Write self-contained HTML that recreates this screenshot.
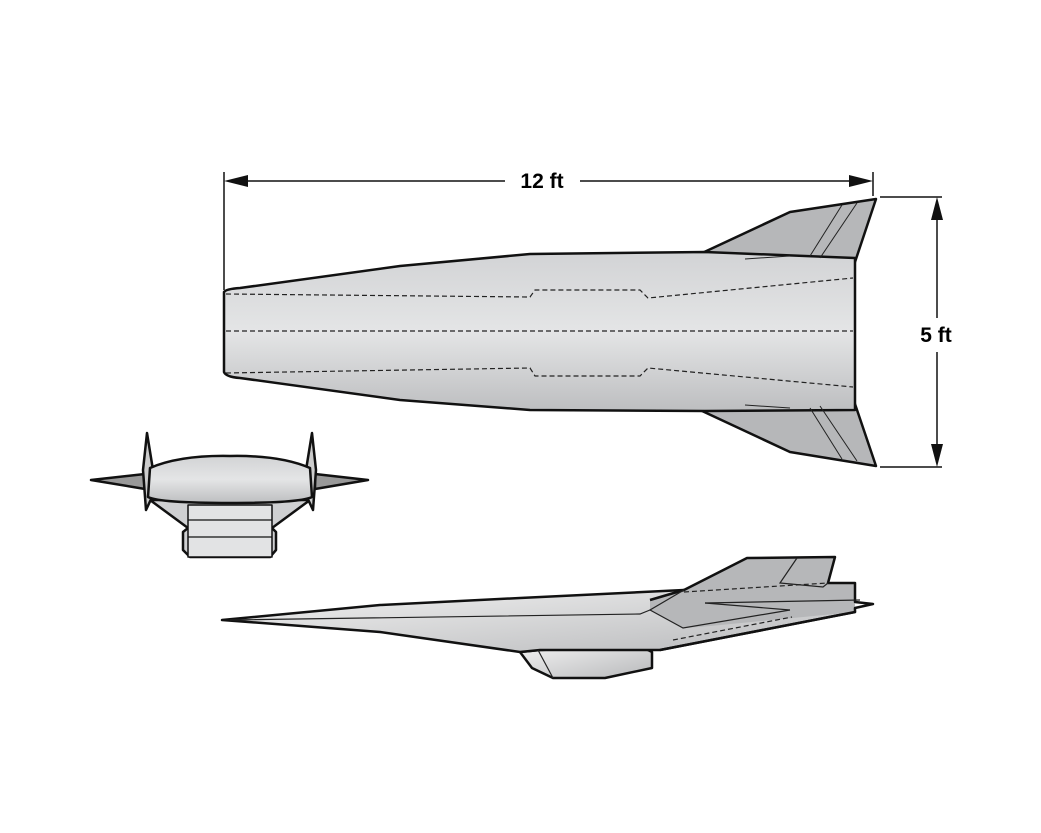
<!DOCTYPE html>
<html><head><style>body{margin:0;background:#fff}svg{display:block}text{font-family:"Liberation Sans",sans-serif;font-weight:bold;font-size:21px}</style></head><body>
<svg width="1041" height="833" viewBox="0 0 1041 833">
<defs>
<linearGradient id="g" x1="0" y1="0" x2="0" y2="1"><stop offset="0" stop-color="#d2d3d5"/><stop offset="0.5" stop-color="#e4e5e6"/><stop offset="1" stop-color="#bdbec0"/></linearGradient>
<linearGradient id="s" x1="0" y1="0" x2="1" y2="1"><stop offset="0" stop-color="#f2f2f2"/><stop offset="1" stop-color="#b8b9bb"/></linearGradient>
</defs>
<g stroke="#111" stroke-width="1.5" fill="none">
<line x1="224" y1="172" x2="224" y2="290"/><line x1="873" y1="172" x2="873" y2="196"/>
<line x1="232" y1="181" x2="505" y2="181"/><line x1="580" y1="181" x2="865" y2="181"/>
<line x1="880" y1="197" x2="942" y2="197"/><line x1="880" y1="467" x2="942" y2="467"/>
<line x1="937" y1="205" x2="937" y2="318"/><line x1="937" y1="352" x2="937" y2="459"/>
</g>
<g fill="#111"><polygon points="224,181 248,175 248,187"/><polygon points="873,181 849,175 849,187"/><polygon points="937,197 931,220 943,220"/><polygon points="937,467 931,444 943,444"/></g>
<text x="542" y="188" text-anchor="middle">12 ft</text>
<text x="936" y="342" text-anchor="middle">5 ft</text>
<!-- top view -->
<g stroke="#111" stroke-width="2.5" stroke-linejoin="round">
<polygon fill="#b6b7b9" points="700,254 790,212 876,199 855,262 820,258"/>
<polygon fill="#b6b7b9" points="700,410 790,452 876,466 855,404 820,406"/>
<path fill="url(#g)" d="M224,292 Q226,289 240,288 L400,266 L530,254 L705,252 L855,258 L855,410 L705,411 L530,410 L400,400 L240,378 Q226,377 224,372 Z"/>
</g>
<g stroke="#222" stroke-width="1" fill="none">
<line x1="810" y1="256" x2="842" y2="205"/><line x1="820" y1="258" x2="857" y2="203"/>
<line x1="810" y1="408" x2="842" y2="459"/><line x1="820" y1="406" x2="857" y2="461"/>
<line x1="745" y1="259" x2="790" y2="256"/><line x1="745" y1="405" x2="790" y2="408"/>
</g>
<g stroke="#222" stroke-width="1.2" fill="none" stroke-dasharray="5,3">
<line x1="226" y1="331" x2="853" y2="331"/>
<path d="M226,294 L530,297 L535,290 L640,290 L648,298 L853,278"/>
<path d="M226,373 L530,368 L535,376 L640,376 L648,368 L853,387"/>
</g>
<!-- front view -->
<g stroke="#111" stroke-width="2.5" stroke-linejoin="round">
<path fill="#cfd0d2" d="M150,500 L188,528 L183,532 L183,550 L190,557 L270,557 L276,550 L276,532 L272,528 L310,500 Z"/>
<rect x="188" y="505" width="84" height="52" fill="#e2e3e4" stroke-width="1.5"/>
<line x1="188" y1="520" x2="272" y2="520" stroke-width="1.2"/>
<line x1="188" y1="537" x2="272" y2="537" stroke-width="1.2"/>
<path fill="#999" d="M91,480 L145,474 L145,489 Z" stroke-width="2.5"/>
<path fill="#999" d="M368,480 L315,474 L315,489 Z" stroke-width="2.5"/>
<path fill="#ccc" d="M147,433 L153,470 L153,495 L146,510 L143,470 Z" stroke-width="2.5"/>
<path fill="#ccc" d="M312,433 L306,470 L306,495 L313,510 L316,470 Z" stroke-width="2.5"/>
<path fill="url(#g)" d="M150,468 Q180,455 230,456 Q280,455 310,468 L312,497 Q300,503 230,503 Q160,503 148,497 Z"/>
</g>
<!-- side view -->
<g stroke="#111" stroke-width="2.5" stroke-linejoin="round">
<path fill="url(#s)" d="M520,652 L540,650 L640,646 L652,652 L652,668 L605,678 L553,678 L532,668 Z"/>
<path fill="url(#s)" d="M222,620 L380,605 L520,598 L684,590 L760,600 L855,612 L660,650 L540,650 L520,652 L380,632 Z"/>
<path fill="#b6b7b9" d="M650,600 L684,590 L747,558 L835,557 L828,583 L855,583 L855,612 L700,627 L683,628 L650,610 Z" stroke-width="0"/>
<polyline fill="none" points="650,600 684,590 747,558 835,557 828,583 855,583 855,602 873,604 855,608 855,612 660,650"/>
</g>
<g stroke="#222" stroke-width="1.2" fill="none">
<polyline points="230,620 640,614 650,610"/>
<polyline points="684,590 650,610 683,628 790,610"/>
<line x1="705" y1="603" x2="860" y2="600"/>
<line x1="705" y1="603" x2="790" y2="610"/>
<polyline points="797,558 780,583 823,587 828,583"/>
<line x1="538" y1="650" x2="553" y2="678"/>
</g>
<g stroke="#222" stroke-width="1.2" fill="none" stroke-dasharray="5,3">
<line x1="684" y1="592" x2="828" y2="583"/>
<line x1="673" y1="640" x2="792" y2="617"/>
</g>
</svg>
</body></html>
